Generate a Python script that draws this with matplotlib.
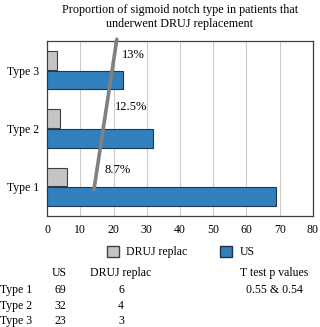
import matplotlib
matplotlib.use('Agg')
from matplotlib import pyplot as plt
from matplotlib.patches import Patch
import numpy as np

# data
types = ['Type 1', 'Type 2', 'Type 3']
us = [69, 32, 23]
druj = [6, 4, 3]
pct_labels = ['8.7%', '12.5%', '13%']
pvalues = '0.55 & 0.54'
trend_x = [14.1, 21.0]
trend_y = [-0.05, 2.53]

plt.rcParams['font.family'] = ['Liberation Serif', 'DejaVu Serif']
plt.rcParams['font.size'] = 8

blue = '#2f80bd'
grey = '#c4c4c4'

fig = plt.figure(figsize=(3.2, 3.27), dpi=100)
ax = fig.add_axes([0.147, 0.3394, 0.831, 0.5352])

y = np.arange(len(types))
h = 0.32
ax.barh(y + 0.17, druj, height=h, color=grey, edgecolor='#404040', linewidth=0.8, zorder=3)
ax.barh(y - 0.17, us, height=h, color=blue, edgecolor='#1f3550', linewidth=0.8, zorder=3)

# trend line
ax.plot(trend_x, trend_y, color='#808080', linewidth=2.6, solid_capstyle='round',
        clip_on=False, zorder=4)

# percentage labels
pct_pos = [(17.4, 0.29), (20.4, 1.37), (22.6, 2.26)]
for lab, (px, py) in zip(pct_labels, pct_pos):
    ax.text(px, py, lab, ha='left', va='center', fontsize=9)

ax.set_xlim(0, 80)
ax.set_ylim(-0.5, 2.5)
ax.set_xticks(np.arange(0, 81, 10))
ax.set_yticks(y)
ax.set_yticklabels(types)
ax.tick_params(length=0, labelsize=8.5, pad=6)
ax.grid(axis='x', color='#cccccc', linewidth=0.8, zorder=0)
for s in ax.spines.values():
    s.set_color('#404040')
    s.set_linewidth(0.9)

fig.text(0.5625, 0.968, 'Proportion of sigmoid notch type in patients that',
         ha='center', va='center', fontsize=8.7)
fig.text(0.5625, 0.926, 'underwent DRUJ replacement', ha='center', va='center', fontsize=8.7)

handles = [Patch(facecolor=grey, edgecolor='#404040', label='DRUJ replac'),
           Patch(facecolor=blue, edgecolor='#1f3550', label='US')]
fig.legend(handles=handles, loc='center', bbox_to_anchor=(0.565, 0.229), ncol=2,
           frameon=False, fontsize=8.5, columnspacing=2.8, handlelength=1.0,
           handleheight=1.0, handletextpad=0.6)

# summary table below the chart
fig.text(0.186, 0.164, 'US', ha='center', va='center', fontsize=8.5)
fig.text(0.378, 0.164, 'DRUJ replac', ha='center', va='center', fontsize=8.5)
fig.text(0.858, 0.164, 'T test p values', ha='center', va='center', fontsize=8.5)
fig.text(0.858, 0.114, pvalues, ha='center', va='center', fontsize=8.5)
row_y = [0.114, 0.065, 0.018]
for t, u, d, ry in zip(types, us, druj, row_y):
    fig.text(0.0, ry, t, ha='left', va='center', fontsize=8.5)
    fig.text(0.19, ry, str(u), ha='center', va='center', fontsize=8.5)
    fig.text(0.378, ry, str(d), ha='center', va='center', fontsize=8.5)

fig.savefig('out.png', dpi=100)
